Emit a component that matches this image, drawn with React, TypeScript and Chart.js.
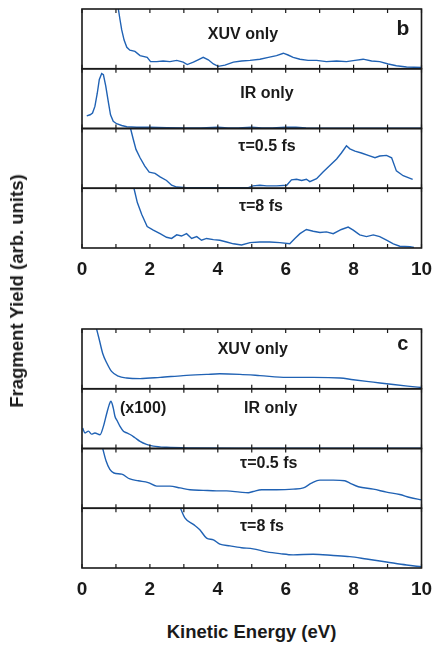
import React, { useEffect, useRef } from 'react';
import { Chart, registerables } from 'chart.js';

Chart.register(...registerables);

// ---------- data ----------
const X_TICK_STEP = 2;
const MINOR_TICKS = [0, 1, 2, 3, 4, 5, 6, 7, 8, 9, 10];
const PANEL_LABELS = ['XUV only', 'IR only', 'τ=0.5 fs', 'τ=8 fs'];

// Panel b
const B_XUV_X = [1.07, 1.12, 1.17, 1.24, 1.32, 1.41, 1.56, 1.71, 1.92, 2.02, 2.2, 2.39, 2.59, 2.79, 2.98, 3.1, 3.28, 3.42, 3.57, 3.72, 3.87, 4.01, 4.21, 4.46, 4.7, 4.95, 5.24, 5.49, 5.73, 5.93, 6.07, 6.22, 6.42, 6.66, 6.91, 7.2, 7.5, 7.79, 8.04, 8.28, 8.53, 8.77, 9.02, 9.26, 9.56, 10.0];
const B_XUV_Y = [1.0, 0.82, 0.65, 0.48, 0.36, 0.31, 0.29, 0.22, 0.19, 0.12, 0.12, 0.13, 0.12, 0.14, 0.11, 0.07, 0.11, 0.15, 0.19, 0.15, 0.08, 0.04, 0.06, 0.11, 0.13, 0.14, 0.16, 0.19, 0.22, 0.26, 0.23, 0.19, 0.16, 0.14, 0.14, 0.12, 0.13, 0.12, 0.14, 0.16, 0.13, 0.12, 0.08, 0.05, 0.03, 0.02];

const B_IR_X = [0.14, 0.24, 0.31, 0.38, 0.45, 0.51, 0.58, 0.63, 0.7, 0.78, 0.84, 0.92, 1.02, 1.17, 1.32, 1.61, 2.0, 2.5, 3.0, 3.5, 4.0, 4.3, 4.6, 5.0, 5.3, 5.6, 6.0, 6.3, 6.6, 7.0, 7.5, 8.0, 8.5, 9.0, 9.5, 10.0];
const B_IR_Y = [0.21, 0.23, 0.26, 0.37, 0.59, 0.82, 0.92, 0.9, 0.71, 0.43, 0.23, 0.12, 0.08, 0.05, 0.03, 0.02, 0.02, 0.015, 0.01, 0.01, 0.02, 0.01, 0.01, 0.02, 0.01, 0.01, 0.02, 0.02, 0.01, 0.006, 0.006, 0.006, 0.006, 0.006, 0.006, 0.006];

const B_T05_X = [1.43, 1.51, 1.59, 1.71, 1.85, 1.98, 2.15, 2.3, 2.49, 2.64, 2.79, 3.08, 3.5, 4.0, 4.5, 4.9, 5.04, 5.24, 5.44, 5.73, 6.03, 6.17, 6.32, 6.47, 6.61, 6.71, 6.91, 7.1, 7.3, 7.5, 7.64, 7.79, 7.89, 8.04, 8.23, 8.43, 8.63, 8.77, 8.97, 9.12, 9.26, 9.46, 9.74];
const B_T05_Y = [1.0, 0.82, 0.65, 0.51, 0.37, 0.27, 0.25, 0.19, 0.13, 0.05, 0.02, 0.01, 0.008, 0.008, 0.01, 0.01, 0.04, 0.05, 0.04, 0.04, 0.05, 0.14, 0.15, 0.13, 0.15, 0.11, 0.16, 0.27, 0.38, 0.49, 0.59, 0.71, 0.66, 0.62, 0.59, 0.55, 0.51, 0.54, 0.55, 0.51, 0.29, 0.21, 0.15];

const B_T8_X = [1.53, 1.63, 1.76, 1.92, 2.1, 2.3, 2.49, 2.64, 2.79, 2.93, 3.08, 3.23, 3.38, 3.52, 3.67, 3.87, 4.06, 4.26, 4.46, 4.7, 4.95, 5.24, 5.53, 5.83, 6.12, 6.27, 6.42, 6.61, 6.81, 7.01, 7.2, 7.4, 7.64, 7.84, 7.99, 8.18, 8.38, 8.58, 8.77, 8.97, 9.17, 9.36, 9.66, 9.78];
const B_T8_Y = [1.0, 0.76, 0.56, 0.36, 0.3, 0.24, 0.18, 0.16, 0.22, 0.2, 0.24, 0.16, 0.19, 0.13, 0.16, 0.14, 0.13, 0.1, 0.07, 0.05, 0.09, 0.1, 0.1, 0.09, 0.07, 0.16, 0.24, 0.31, 0.28, 0.26, 0.27, 0.24, 0.31, 0.35, 0.3, 0.22, 0.19, 0.22, 0.19, 0.13, 0.07, 0.03, 0.02, 0.01];

// Panel c
const C_XUV_X = [0.43, 0.51, 0.61, 0.73, 0.87, 1.07, 1.32, 1.71, 2.3, 2.98, 3.67, 4.06, 4.65, 5.24, 6.03, 6.81, 7.6, 7.99, 8.58, 9.17, 9.66, 10.0];
const C_XUV_Y = [1.0, 0.82, 0.59, 0.43, 0.29, 0.21, 0.18, 0.17, 0.19, 0.22, 0.24, 0.25, 0.24, 0.22, 0.19, 0.19, 0.18, 0.15, 0.11, 0.07, 0.04, 0.02];

const C_IR_X = [0.02, 0.09, 0.19, 0.28, 0.38, 0.53, 0.63, 0.73, 0.8, 0.85, 0.92, 0.97, 1.04, 1.12, 1.22, 1.32, 1.43, 1.56, 1.71, 1.9, 2.1, 2.49, 3.28, 5.0, 7.0, 10.0];
const C_IR_Y = [0.34, 0.26, 0.29, 0.24, 0.26, 0.23, 0.37, 0.59, 0.73, 0.79, 0.68, 0.54, 0.46, 0.37, 0.29, 0.26, 0.23, 0.18, 0.12, 0.07, 0.04, 0.02, 0.01, 0.006, 0.005, 0.005];

const C_T05_X = [0.61, 0.71, 0.82, 0.94, 1.17, 1.41, 1.66, 1.95, 2.2, 2.59, 2.89, 3.18, 3.57, 3.96, 4.26, 4.65, 4.9, 5.04, 5.29, 5.73, 6.22, 6.52, 6.76, 7.01, 7.4, 7.74, 7.89, 8.14, 8.58, 8.97, 9.36, 9.66, 10.0];
const C_T05_Y = [1.0, 0.79, 0.65, 0.59, 0.57, 0.49, 0.46, 0.43, 0.37, 0.37, 0.34, 0.31, 0.3, 0.29, 0.29, 0.27, 0.26, 0.28, 0.31, 0.31, 0.32, 0.34, 0.42, 0.47, 0.47, 0.46, 0.42, 0.36, 0.32, 0.27, 0.23, 0.18, 0.14];

const C_T8_X = [2.9, 3.03, 3.28, 3.47, 3.67, 3.87, 4.06, 4.36, 4.7, 5.04, 5.44, 5.83, 6.22, 6.81, 7.4, 7.89, 8.38, 8.97, 9.56, 10.0];
const C_T8_Y = [1.0, 0.84, 0.73, 0.64, 0.5, 0.47, 0.4, 0.37, 0.34, 0.32, 0.27, 0.24, 0.22, 0.23, 0.21, 0.19, 0.15, 0.1, 0.05, 0.02];

// ---------- styling ----------
const LINE_COLOR = '#2062b4';
const INK = '#1a1a1a';
const FONT = '"Liberation Sans", Arial, Helvetica, sans-serif';

type Label = { text: string; x: number; fy: number; size?: number };

function pts(xs: number[], ys: number[]) {
  return xs.map((x, i) => ({ x, y: ys[i] }));
}

function makeDeco(panelLabels: Label[][]) {
  return {
    id: 'deco',
    beforeDatasetDraw(chart: any, args: any) {
      const meta = chart.getDatasetMeta(args.index);
      const ys = meta.yScale;
      const a = chart.chartArea;
      const ctx = chart.ctx;
      ctx.save();
      ctx.beginPath();
      ctx.rect(a.left, ys.top, a.right - a.left, ys.bottom - ys.top + 1);
      ctx.clip();
    },
    afterDatasetDraw(chart: any) {
      chart.ctx.restore();
    },
    afterDraw(chart: any) {
      const ctx = chart.ctx;
      const xs = chart.scales.x;
      const a = chart.chartArea;
      ctx.save();
      ctx.strokeStyle = INK;
      ctx.fillStyle = INK;
      ['y0', 'y1', 'y2', 'y3'].forEach((id, i) => {
        const s = chart.scales[id];
        ctx.lineWidth = 1.2;
        ctx.beginPath();
        MINOR_TICKS.forEach((v) => {
          const px = xs.getPixelForValue(v);
          ctx.moveTo(px, s.top);
          ctx.lineTo(px, s.top + 4);
          ctx.moveTo(px, s.bottom);
          ctx.lineTo(px, s.bottom - 4);
        });
        ctx.stroke();
        ctx.lineWidth = 1.6;
        ctx.strokeRect(a.left, s.top, a.right - a.left, s.bottom - s.top);
        ctx.textAlign = 'center';
        ctx.textBaseline = 'middle';
        (panelLabels[i] || []).forEach((l) => {
          ctx.font = `bold ${l.size || 16}px ${FONT}`;
          ctx.fillText(l.text, xs.getPixelForValue(l.x), s.top + l.fy * (s.bottom - s.top));
        });
      });
      ctx.restore();
    },
  };
}

function buildChart(canvas: HTMLCanvasElement, series: { x: number[]; y: number[] }[], smooth: boolean, labels: Label[][]) {
  const yAxis = () => ({
    type: 'linear' as const,
    min: 0,
    max: 1,
    display: false,
    position: 'left' as const,
    stack: 'panel',
    stackWeight: 1,
  });
  return new Chart(canvas, {
    type: 'line',
    data: {
      datasets: series.map((s, i) => ({
        data: pts(s.x, s.y),
        yAxisID: 'y' + i,
        xAxisID: 'x',
        borderColor: LINE_COLOR,
        borderWidth: 1.4,
        pointRadius: 0,
        fill: false,
        tension: 0,
        cubicInterpolationMode: smooth ? ('monotone' as const) : ('default' as const),
      })),
    },
    options: {
      responsive: false,
      animation: false,
      events: [],
      layout: { padding: { left: 82, right: 0, top: 9, bottom: 10 } },
      plugins: { legend: { display: false }, tooltip: { enabled: false } },
      scales: {
        x: {
          type: 'linear',
          position: 'bottom',
          min: 0,
          max: 10,
          grid: { display: false, drawTicks: false },
          border: { display: false },
          ticks: {
            stepSize: X_TICK_STEP,
            padding: 10,
            color: INK,
            font: { family: FONT, size: 19, weight: 'bold' },
            maxRotation: 0,
          },
          afterFit: (s: any) => {
            s.height = 42;
            s.paddingRight = 10.5;
          },
        },
        y3: yAxis(),
        y2: yAxis(),
        y1: yAxis(),
        y0: yAxis(),
      } as any,
    },
    plugins: [makeDeco(labels)],
  });
}

export default function App() {
  const refB = useRef<HTMLCanvasElement>(null);
  const refC = useRef<HTMLCanvasElement>(null);

  useEffect(() => {
    const cb = buildChart(
      refB.current!,
      [
        { x: B_XUV_X, y: B_XUV_Y },
        { x: B_IR_X, y: B_IR_Y },
        { x: B_T05_X, y: B_T05_Y },
        { x: B_T8_X, y: B_T8_Y },
      ],
      false,
      [
        [{ text: PANEL_LABELS[0], x: 4.74, fy: 0.42 }, { text: 'b', x: 9.45, fy: 0.33, size: 21 }],
        [{ text: PANEL_LABELS[1], x: 5.45, fy: 0.41 }],
        [{ text: PANEL_LABELS[2], x: 5.45, fy: 0.31 }],
        [{ text: PANEL_LABELS[3], x: 5.27, fy: 0.31 }],
      ]
    );
    const cc = buildChart(
      refC.current!,
      [
        { x: C_XUV_X, y: C_XUV_Y },
        { x: C_IR_X, y: C_IR_Y },
        { x: C_T05_X, y: C_T05_Y },
        { x: C_T8_X, y: C_T8_Y },
      ],
      true,
      [
        [{ text: PANEL_LABELS[0], x: 5.03, fy: 0.34 }, { text: 'c', x: 9.45, fy: 0.26, size: 20 }],
        [{ text: PANEL_LABELS[1], x: 5.56, fy: 0.33 }, { text: '(x100)', x: 1.8, fy: 0.33 }],
        [{ text: PANEL_LABELS[2], x: 5.5, fy: 0.26 }],
        [{ text: PANEL_LABELS[3], x: 5.3, fy: 0.31 }],
      ]
    );
    return () => {
      cb.destroy();
      cc.destroy();
    };
  }, []);

  const titleStyle: React.CSSProperties = {
    position: 'absolute',
    fontFamily: FONT,
    fontWeight: 'bold',
    fontSize: 18.5,
    color: INK,
    whiteSpace: 'nowrap',
    lineHeight: '22px',
  };

  return (
    <div style={{ position: 'fixed', left: 0, top: 0, width: 432, height: 652, background: '#fff', overflow: 'hidden' }}>
      <canvas ref={refB} width={432} height={300} style={{ position: 'absolute', left: 0, top: 0, width: 432, height: 300 }} />
      <canvas ref={refC} width={432} height={300} style={{ position: 'absolute', left: 0, top: 320, width: 432, height: 300 }} />
      <div
        style={{
          ...titleStyle,
          left: 17,
          top: 291,
          transform: 'translate(-50%, -50%) rotate(-90deg)',
        }}
      >
        Fragment Yield (arb. units)
      </div>
      <div style={{ ...titleStyle, left: 251.5, top: 632, transform: 'translate(-50%, -50%)' }}>Kinetic Energy (eV)</div>
    </div>
  );
}
